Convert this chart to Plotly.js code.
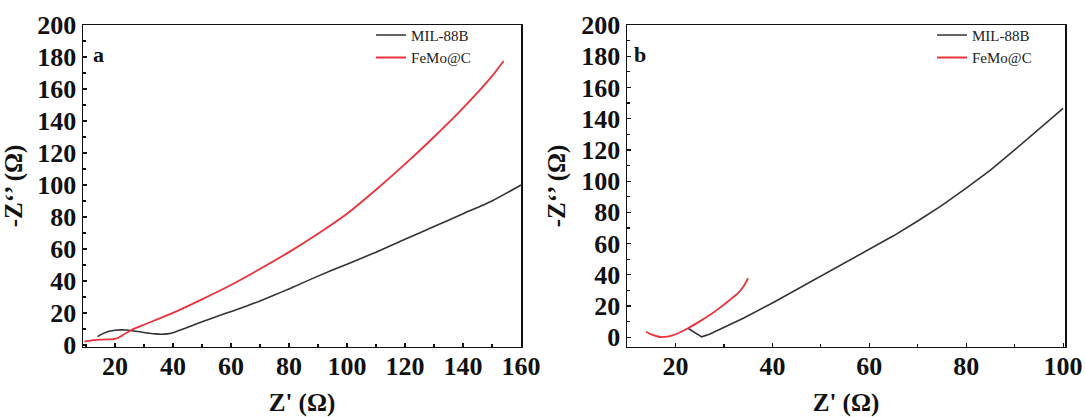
<!DOCTYPE html>
<html>
<head>
<meta charset="utf-8">
<script src="https://cdn.plot.ly/plotly-3.0.1.min.js"></script>
<style>html,body{margin:0;padding:0;background:#fff;}</style>
</head>
<body>
<div id="chart" style="width:1085px;height:417px;"></div>
<script>
// Panel a
const aMilX = [14, 16, 18, 20, 22, 24, 26, 28, 30, 32, 34, 36, 38, 40, 44, 48, 53, 59, 65, 70, 75, 80, 90, 100, 110, 120, 130, 140, 150, 160];
const aMilY = [5.2, 7.2, 8.5, 9.2, 9.4, 9.3, 8.9, 8.4, 7.8, 7.3, 6.9, 6.7, 6.9, 7.6, 10.2, 13.1, 16.4, 20.2, 24, 27.5, 31.2, 35, 43, 50.5, 58, 66, 74, 82, 90, 100];
const aFeX = [9.5, 12, 15, 18, 19.5, 21, 23, 25.6, 30, 35, 40, 50, 60, 70, 80, 90, 100, 110, 120, 130, 140, 150, 154];
const aFeY = [2, 2.8, 3.3, 3.5, 3.6, 4.3, 6.5, 9.2, 12.6, 16.3, 20, 28.5, 37.5, 47.5, 58, 69.5, 82, 97, 113, 130, 148, 168, 177.5];
// Panel b
const bMilX = [22.6, 24, 25.4, 27, 30, 34, 40, 45, 50, 55, 60, 65, 70, 75, 80, 85, 90, 95, 100];
const bMilY = [5.8, 3, 0.3, 2, 6.3, 12.2, 22, 30.5, 39, 48, 56.5, 65, 74.5, 84.5, 95.5, 107, 120, 133, 146.6];
const bFeX = [13.9, 15.3, 16.8, 18.3, 19.9, 22.6, 25, 27.1, 29.2, 31.2, 32.8, 34, 35];
const bFeY = [3.6, 1.5, 0.2, 0.4, 1.8, 5.8, 10.2, 14.3, 19, 23.9, 28, 32.4, 37.8];
const seriesNames = ["MIL-88B", "FeMo@C"];
const xTitle = "Z' (Ω)";
const yTitle = "-Z‘’ (Ω)";
const panelLabels = ["a", "b"];

const black = "#333333", red = "#e8333c";
const serif = "Liberation Serif";

const traces = [
  {x: aMilX, y: aMilY, name: seriesNames[0], mode: "lines", line: {color: black, width: 1.6, shape: "spline", smoothing: 0.6}, xaxis: "x", yaxis: "y", legend: "legend"},
  {x: aFeX, y: aFeY, name: seriesNames[1], mode: "lines", line: {color: red, width: 1.8, shape: "spline", smoothing: 0.6}, xaxis: "x", yaxis: "y", legend: "legend"},
  {x: bMilX, y: bMilY, name: seriesNames[0], mode: "lines", line: {color: black, width: 1.6, shape: "linear"}, xaxis: "x2", yaxis: "y2", legend: "legend2"},
  {x: bFeX, y: bFeY, name: seriesNames[1], mode: "lines", line: {color: red, width: 1.8, shape: "spline", smoothing: 0.6}, xaxis: "x2", yaxis: "y2", legend: "legend2"}
];

const tickFont = {family: serif, size: 26, color: "#111", weight: "bold"};
const titleFont = {family: serif, size: 25, color: "#111", weight: "bold"};

function xAx(domain, range) {
  return {
    domain: domain, range: range, tick0: 0, dtick: 20, ticks: "inside", ticklen: 4, tickwidth: 1.2, tickcolor: "#111",
    minor: {dtick: 10, tick0: 0, ticks: "inside", ticklen: 3, tickwidth: 1.2, tickcolor: "#111"},
    showline: true, mirror: true, linecolor: "#111", linewidth: 1.5, showgrid: false, zeroline: false,
    tickfont: tickFont, ticklabelstandoff: -5,
    title: {text: xTitle, font: titleFont, standoff: 22}
  };
}
function yAx(range, anchor) {
  return {
    domain: [0.1679, 0.94], range: range, tick0: 0, dtick: 20, ticks: "inside", ticklen: 4, tickwidth: 1.2, tickcolor: "#111",
    minor: {dtick: 10, tick0: 0, ticks: "inside", ticklen: 3, tickwidth: 1.2, tickcolor: "#111"},
    showline: true, mirror: true, linecolor: "#111", linewidth: 1.5, showgrid: false, zeroline: false,
    tickfont: tickFont, ticklabelstandoff: 0, anchor: anchor,
    title: {text: yTitle, font: titleFont, standoff: 8}
  };
}

const legendBase = {font: {family: serif, size: 15, color: "#222"}, bgcolor: "rgba(0,0,0,0)", borderwidth: 0,
  xanchor: "left", yanchor: "top", itemwidth: 30, tracegroupgap: 0};

const layout = {
  width: 1085, height: 417,
  margin: {l: 0, r: 0, t: 0, b: 0},
  paper_bgcolor: "#fff", plot_bgcolor: "#fff",
  showlegend: true,
  xaxis: Object.assign(xAx([0.0765, 0.4802], [9, 160]), {anchor: "y"}),
  yaxis: yAx([-1.3, 200], "x"),
  xaxis2: Object.assign(xAx([0.5779, 0.9816], [10, 100.4]), {anchor: "y2"}),
  yaxis2: yAx([-6.2, 200], "x2"),
  legend: Object.assign({}, legendBase, {x: 0.342, y: 0.955}),
  legend2: Object.assign({}, legendBase, {x: 0.859, y: 0.955}),
  annotations: [
    {text: panelLabels[0], xref: "x domain", yref: "y domain", x: 0.018, y: 0.955, xanchor: "left", yanchor: "top", showarrow: false, font: {family: serif, size: 22, color: "#111", weight: "bold"}},
    {text: panelLabels[1], xref: "x2 domain", yref: "y2 domain", x: 0.012, y: 0.955, xanchor: "left", yanchor: "top", showarrow: false, font: {family: serif, size: 22, color: "#111", weight: "bold"}}
  ]
};

Plotly.newPlot("chart", traces, layout, {displayModeBar: false, staticPlot: true});
</script>
</body>
</html>
